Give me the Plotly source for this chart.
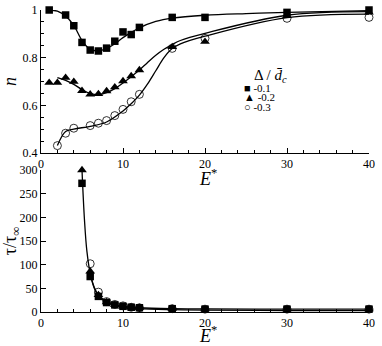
import plotly.graph_objects as go
from plotly.subplots import make_subplots

# ── data ────────────────────────────────────────────────────────────────────
E_SQ = [1, 3, 4, 5, 6, 7, 8, 9, 10, 11, 12, 16, 20, 30, 40]
N_SQ = [1.0, 0.979, 0.934, 0.864, 0.832, 0.828, 0.84, 0.869, 0.908, 0.897, 0.927, 0.969, 0.969, 0.99, 1.0]

E_TR = [1, 2, 3, 4, 5, 6, 7, 8, 9, 10, 11, 12, 16, 20, 30, 40]
N_TR = [0.695, 0.695, 0.716, 0.699, 0.661, 0.646, 0.648, 0.66, 0.676, 0.702, 0.723, 0.748, 0.845, 0.867, 0.975, 0.99]

E_CI = [2, 3, 4, 6, 7, 8, 9, 10, 11, 12, 16, 20, 30, 40]
N_CI = [0.431, 0.483, 0.504, 0.515, 0.525, 0.536, 0.557, 0.583, 0.615, 0.646, 0.839, 0.881, 0.965, 0.969]

# fitted curves
FIT_SQ_E = [1, 2, 3, 4, 5, 6, 7, 8, 9, 10, 12, 14, 16, 20, 25, 30, 40]
FIT_SQ_N = [1.0, 0.995, 0.975, 0.935, 0.872, 0.835, 0.829, 0.838, 0.858, 0.884, 0.925, 0.952, 0.966, 0.978, 0.985, 0.99, 0.997]
FIT_TR_E = [2, 3, 4, 5, 6, 7, 8, 9, 10, 11, 12, 13, 14, 15, 16, 17, 20, 30, 40]
FIT_TR_N = [0.716, 0.705, 0.688, 0.666, 0.65, 0.645, 0.653, 0.67, 0.694, 0.72, 0.748, 0.78, 0.81, 0.835, 0.855, 0.872, 0.902, 0.978, 0.993]
FIT_CI_E = [2, 3, 4, 6, 8, 10, 11, 12, 13, 14, 15, 16, 17, 20, 30, 40]
FIT_CI_N = [0.431, 0.49, 0.5, 0.512, 0.53, 0.576, 0.607, 0.643, 0.69, 0.745, 0.8, 0.838, 0.858, 0.89, 0.968, 0.983]

T_E_SQ = [5, 6, 7, 8, 9, 10, 11, 12, 16, 20, 30, 40]
T_SQ = [272, 75, 33, 20, 15, 12, 10, 9, 7, 6, 6, 6]
T_E_TR = [5, 6, 7, 8, 9, 10, 11, 12, 16, 20, 30, 40]
T_TR = [300, 86, 36, 21, 15, 12, 10, 9, 7, 6, 6, 6]
T_E_CI = [6, 7, 8, 9, 10, 11, 12, 16, 20, 30, 40]
T_CI = [102, 42, 22, 16, 13, 10, 9, 7, 6, 6, 6]

FIT_T_E = [5.0, 5.3, 5.6, 6.0, 6.5, 7, 8, 9, 10, 12, 16, 20, 30, 40]
FIT_T = [300, 195, 128, 82, 52, 36, 22, 16, 12, 9, 7, 6.5, 6, 6]
FIT_T2_E = [6.0, 6.5, 7, 8, 9, 10, 12, 16, 20, 30, 40]
FIT_T2 = [80, 50, 34, 20, 14, 10, 7, 5, 4, 3, 3]

LEGEND_LABELS = ["-0.1", "-0.2", "-0.3"]

SERIF = "Liberation Serif"
BLACK = "#000000"

fig = make_subplots(rows=2, cols=1, vertical_spacing=0.0)

line_style = dict(color=BLACK, width=1.3)
sq = dict(symbol="square", size=7.5, color=BLACK)
tr = dict(symbol="triangle-up", size=8.5, color=BLACK)
ci = dict(symbol="circle-open", size=8, color=BLACK, line=dict(width=0.8))

# top panel: n vs E*
for ex, ny in [(FIT_SQ_E, FIT_SQ_N), (FIT_TR_E, FIT_TR_N), (FIT_CI_E, FIT_CI_N)]:
    fig.add_trace(go.Scatter(x=ex, y=ny, mode="lines", line=line_style,
                             line_shape="spline", showlegend=False), row=1, col=1)
fig.add_trace(go.Scatter(x=E_CI, y=N_CI, mode="markers", marker=ci, cliponaxis=False,
                         showlegend=False), row=1, col=1)
fig.add_trace(go.Scatter(x=E_TR, y=N_TR, mode="markers", marker=tr, cliponaxis=False,
                         showlegend=False), row=1, col=1)
fig.add_trace(go.Scatter(x=E_SQ, y=N_SQ, mode="markers", marker=sq, cliponaxis=False,
                         showlegend=False), row=1, col=1)

# bottom panel: tau/tau_inf vs E*
fig.add_trace(go.Scatter(x=FIT_T2_E, y=FIT_T2, mode="lines", line=line_style,
                         line_shape="spline", showlegend=False), row=2, col=1)
fig.add_trace(go.Scatter(x=FIT_T_E, y=FIT_T, mode="lines", line=line_style,
                         line_shape="spline", showlegend=False), row=2, col=1)
fig.add_trace(go.Scatter(x=T_E_CI, y=T_CI, mode="markers", marker=ci, cliponaxis=False,
                         showlegend=False), row=2, col=1)
fig.add_trace(go.Scatter(x=T_E_TR, y=T_TR, mode="markers", marker=tr, cliponaxis=False,
                         showlegend=False), row=2, col=1)
fig.add_trace(go.Scatter(x=T_E_SQ, y=T_SQ, mode="markers", marker=sq, cliponaxis=False,
                         showlegend=False), row=2, col=1)

axis_common = dict(
    showgrid=False, zeroline=False, showline=True, linecolor=BLACK, linewidth=1,
    ticks="inside", ticklen=5, tickcolor=BLACK, tickwidth=1,
    tickfont=dict(family=SERIF, size=12, color=BLACK),
    title_font=dict(family=SERIF, size=18, color=BLACK),
    mirror=False,
)
fig.update_xaxes(**axis_common, range=[0, 40], dtick=10, automargin=False,
                 minor=dict(dtick=2, ticks="inside", ticklen=3, tickcolor=BLACK))
fig.update_yaxes(**axis_common)
fig.update_yaxes(range=[0.4, 1.0], tickvals=[0.4, 0.6, 0.8, 1.0],
                 ticktext=["0.4", "0.6", "0.8", "1"],
                 minor=dict(dtick=0.05, ticks="inside", ticklen=3, tickcolor=BLACK),
                 title_text="<i>n</i>", title_standoff=4, row=1, col=1)
fig.update_yaxes(range=[0, 300], dtick=50,
                 title_text="τ/τ<sub>∞</sub>", title_standoff=2, row=2, col=1)

# fixed margins (no auto-expansion) so the panels sit where the reference has them
fig.update_layout(
    width=382, height=346,
    margin=dict(l=41, r=13, t=10, b=34, autoexpand=False),
    plot_bgcolor="white", paper_bgcolor="white",
    font=dict(family=SERIF, color=BLACK),
    showlegend=False,
    yaxis=dict(domain=[0.5265, 1.0]),
    yaxis2=dict(domain=[0.0, 0.47]),
)

# x-axis titles placed close under the tick labels
for yy in [0.447, -0.074]:
    fig.add_annotation(text="<i>E</i><sup>*</sup>", xref="paper", yref="paper",
                       x=0.509, y=yy, xanchor="center", yanchor="middle", showarrow=False,
                       font=dict(family=SERIF, size=18, color=BLACK))

# legend drawn as text, to keep its tight spacing
fig.add_annotation(text="Δ / <i>d\u0304</i><sub><i>c</i></sub>", xref="paper", yref="paper",
                   x=0.700, y=0.781, xanchor="center", yanchor="middle", showarrow=False,
                   font=dict(family=SERIF, size=15, color=BLACK))
for sym, lab, yy in zip(["■", "▲", "○"], LEGEND_LABELS, [0.742, 0.711, 0.679]):
    fig.add_annotation(text=f"{sym} {lab}", xref="paper", yref="paper", x=0.612, y=yy,
                       xanchor="left", yanchor="middle", showarrow=False,
                       font=dict(family=SERIF, size=11, color=BLACK))

# drop the browser's default body margin so the figure sits at the page corner
fig.write_html("out.html", config={"displayModeBar": False},
               post_script="document.body.style.margin='0';")
